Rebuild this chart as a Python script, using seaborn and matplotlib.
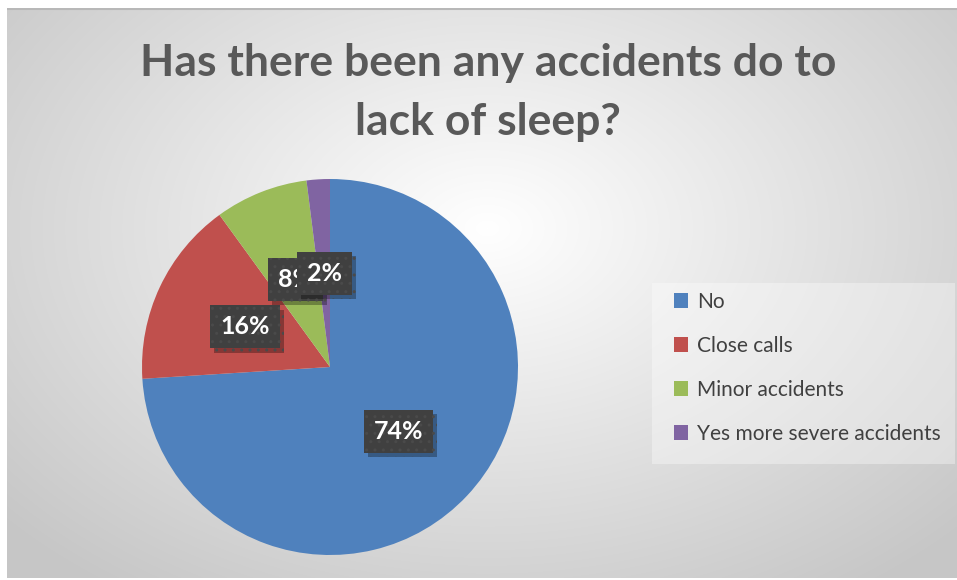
import numpy as np
import matplotlib
matplotlib.use("Agg")
import matplotlib.pyplot as plt
import matplotlib.patheffects as pe
from matplotlib.patches import Rectangle
import seaborn as sns

categories = ["No", "Close calls", "Minor accidents", "Yes more severe accidents"]
shares = [74, 16, 8, 2]
title_lines = ["Has there been any accidents do to", "lack of sleep?"]

sns.set_theme(style="white")
plt.rcParams["font.family"] = ["Lato", "DejaVu Sans"]

palette = sns.color_palette(["#4F81BD", "#C0504D", "#9BBB59", "#8064A2"])

W, H = 957, 580
fig = plt.figure(figsize=(W / 100, H / 100), dpi=100)
fig.patch.set_facecolor("white")

# radial gradient backdrop of the chart area
bg = fig.add_axes([7 / W, 2 / H, 950 / W, 570 / H])
bg.set_axis_off()
yy, xx = np.mgrid[0:570, 0:950]
cx, cy = 480, 220
d = np.sqrt(((xx - cx) / 640.0) ** 2 + ((yy - cy) / 440.0) ** 2)
d = np.clip(d, 0, 1)
lvl = 1.0 - 0.22 * d ** 1.0
img = np.dstack([lvl, lvl, lvl])
bg.imshow(img, aspect="auto", extent=(0, 1, 0, 1), origin="upper")
bg.set_xlim(0, 1)
bg.set_ylim(0, 1)
# thin top border line
bg.plot([0, 1], [0.999, 0.999], color="#b8b8b8", lw=1.5, transform=bg.transAxes)
# faint legend panel
bg.add_patch(Rectangle(((652 - 7) / 950, (572 - 458) / 570), 303 / 950, 181 / 570,
                       facecolor="white", alpha=0.35, edgecolor="none"))

# title
for yline, line in zip([63, 122], title_lines):
    fig.text(488 / W, 1 - yline / H, line, ha="center", va="center",
             fontsize=32, fontweight="bold", color="#595959")

# pie
r = 188
cxp, cyp = 330, 367
ax = fig.add_axes([(cxp - r) / W, (H - cyp - r) / H, 2 * r / W, 2 * r / H])
ax.set_axis_off()
wedges, texts, autotexts = ax.pie(
    shares, colors=palette, startangle=90, counterclock=False,
    autopct=lambda p: f"{p:.0f}%", pctdistance=0.5, radius=1,
    wedgeprops=dict(linewidth=0),
    textprops=dict(color="white", fontsize=18, fontweight="bold"),
)
ax.set_xlim(-1, 1)
ax.set_ylim(-1, 1)

for i, t in enumerate(autotexts):
    t.set_bbox(dict(boxstyle="square,pad=0.4", facecolor="#404040", edgecolor="#4a4a4a",
                    hatch="..", linewidth=0))
    t.get_bbox_patch().set_path_effects([
        pe.SimplePatchShadow(offset=(3, -3), shadow_rgbFace="black", alpha=0.3),
        pe.Normal(),
    ])
    t.set_zorder(5 + i)

# legend
leg = fig.legend(wedges, categories, loc="upper left",
                 bbox_to_anchor=(655 / W, 1 - 273 / H), frameon=False,
                 fontsize=15, labelspacing=1.15, handlelength=0.7, handleheight=0.7,
                 handletextpad=0.4, borderpad=0.4)
for txt in leg.get_texts():
    txt.set_color("#404040")

fig.savefig("out.png", dpi=100)
